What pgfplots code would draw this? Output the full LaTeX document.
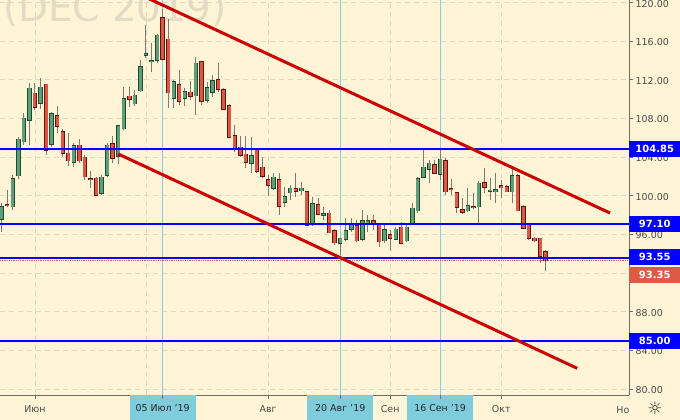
\documentclass[border=0pt]{standalone}
\usepackage{pgfplots}
\pgfplotsset{compat=1.18}
\usepackage{pgfplotstable}
\usepackage{fontspec}
\setmainfont{DejaVu Sans}
\definecolor{bg}{HTML}{FFF4D6}
\definecolor{wm}{HTML}{E3DBC3}
\definecolor{gridc}{HTML}{E3D9C2}
\definecolor{axisgray}{HTML}{6E6E6E}
\definecolor{labgray}{HTML}{4A4A4A}
\definecolor{vline}{HTML}{7FD0E6}
\definecolor{lblue}{HTML}{7ECCDC}
\definecolor{pblue}{HTML}{0000FF}
\definecolor{pred}{HTML}{DC5A46}
\definecolor{trend}{HTML}{CC0000}
\definecolor{gbody}{HTML}{5E9E78}
\definecolor{gline}{HTML}{1F4A2E}
\definecolor{rbody}{HTML}{DB5848}
\definecolor{rline}{HTML}{641408}
\definecolor{wick}{HTML}{7A7A7A}

\pgfplotstableread{
k o h l c
1 97.57 99.26 96.28 98.87
3 98.87 102.15 98.53 101.74
4 102.08 106.12 101.74 105.85
5 105.60 108.57 105.26 108.02
6 107.85 111.68 105.26 111.13
8 109.58 112.20 108.99 111.23
10 105.33 108.71 105.05 108.47
14 103.47 105.47 103.01 105.16
19 100.26 102.15 100.08 101.92
20 102.15 105.43 101.98 105.23
22 104.12 107.33 103.26 107.23
23 106.95 111.29 106.81 110.02
25 109.53 110.95 109.30 110.40
26 110.88 114.06 110.75 113.33
27 114.54 117.68 114.23 114.68
28 113.90 115.85 112.79 113.95
29 114.03 116.75 113.72 116.62
32 110.09 111.99 109.09 111.81
34 110.09 111.16 109.30 110.78
36 110.36 114.37 108.37 113.72
38 109.92 111.81 109.58 111.19
39 110.71 112.51 110.26 111.92
46 103.36 106.06 102.33 104.15
50 100.78 102.36 100.60 101.92
52 99.33 100.94 98.87 99.91
53 100.32 101.12 99.57 100.78
55 100.53 101.46 100.08 100.78
57 97.22 99.91 96.87 99.15
59 98.01 98.87 97.50 98.12
62 95.08 95.70 93.87 95.60
63 95.50 97.67 95.35 96.36
64 96.56 97.67 96.28 96.98
66 95.50 98.48 95.37 97.39
67 97.22 98.01 96.28 97.39
70 95.35 96.98 95.08 96.46
72 95.53 96.80 95.43 96.53
74 95.35 96.98 95.25 96.74
75 97.15 99.23 96.98 98.71
76 98.46 101.92 98.19 101.74
77 101.92 104.74 101.81 102.95
78 102.74 103.71 101.29 103.36
80 102.26 104.92 101.64 103.78
85 98.46 100.78 98.32 98.94
87 98.87 101.56 97.15 101.29
89 100.45 101.81 99.57 100.55
90 100.43 102.33 99.29 100.60
93 100.43 102.85 99.23 102.05
}\greendata

\pgfplotstableread{
k o h l c
2 99.10 100.60 98.84 98.99
7 110.61 111.68 108.88 109.16
9 111.54 111.57 104.23 104.74
11 108.26 109.30 106.53 107.23
12 106.64 106.92 104.05 104.40
13 104.40 106.53 103.09 103.63
15 105.23 105.85 103.40 103.63
16 103.99 104.23 101.64 101.98
17 101.75 102.57 100.78 101.68
18 101.81 101.95 99.98 100.08
21 105.39 106.19 103.40 103.88
24 110.30 111.29 109.22 109.99
30 118.44 119.31 114.06 114.13
31 116.20 118.27 109.06 110.67
33 111.47 113.02 109.40 109.81
35 110.71 111.92 109.92 110.33
37 113.88 113.95 109.40 109.81
40 111.99 113.72 110.78 111.03
41 110.95 111.16 108.88 108.95
42 109.30 109.50 105.98 106.06
43 106.19 107.33 104.57 104.92
44 105.02 106.19 104.02 104.23
45 104.30 106.19 102.85 103.47
47 104.81 104.85 102.36 102.57
48 102.95 104.05 101.81 102.05
49 101.64 102.15 100.01 101.12
51 101.64 102.36 98.01 98.94
54 100.71 102.36 99.91 100.47
56 100.43 100.50 96.93 96.98
58 99.05 99.74 98.01 98.09
60 98.19 98.53 96.10 96.18
61 96.36 96.56 94.91 95.15
65 96.87 97.50 95.25 95.35
68 97.39 98.01 96.50 97.18
69 96.98 97.15 94.73 95.25
71 95.94 96.46 94.29 95.60
73 96.74 97.32 95.01 95.08
79 103.19 103.71 102.26 102.33
81 103.63 103.88 100.08 100.43
82 100.71 101.71 100.08 100.65
83 100.32 100.43 98.19 98.81
84 98.53 99.74 98.12 98.29
86 98.84 100.26 98.63 98.78
88 101.36 102.85 100.26 100.88
91 101.05 101.64 99.74 100.84
92 100.94 101.12 100.40 100.43
94 102.05 102.26 98.46 98.46
95 98.87 99.05 96.53 96.64
96 96.98 97.15 95.43 95.60
97 95.60 95.70 95.25 95.35
98 95.60 95.60 93.07 93.77
99 94.21 94.39 92.25 93.35
}\reddata

\begin{document}
\begin{tikzpicture}
\useasboundingbox (0bp,-25bp) rectangle (680bp,395bp);
\fill[bg] (0bp,-25bp) rectangle (680bp,395bp);
\node[anchor=base west, inner sep=0pt, text=wm, font=\fontsize{39}{39}\selectfont] at (3bp,373bp) {(DEC 2019)};
\begin{axis}[
  at={(0bp,0bp)}, anchor=south west,
  width=629bp, height=395bp, scale only axis,
  xmin=0.694, xmax=114.03, ymin=79.38, ymax=120.27,
  axis x line*=bottom, axis y line*=right,
  axis line style={draw=axisgray, line width=0.8bp},
  tick align=outside, major tick length=4bp,
  tick style={draw=axisgray, line width=0.8bp},
  xtick={7,27,49,71,91}, xticklabels={Июн,,Авг,Сен,Окт},
  ytick={80,84,88,92,96,100,104,108,112,116,120},
  yticklabels={80.00,84.00,88.00,,96.00,100.00,104.00,108.00,112.00,116.00,120.00},
  /pgf/number format/assume math mode=true,
  ticklabel style={font=\fontsize{9.5}{11}\selectfont, text=labgray},
  yticklabel style={anchor=west, inner sep=0pt, xshift=2.5bp, yshift=-1bp},
  xticklabel style={anchor=north, inner sep=0pt, yshift=-6bp},
  grid=major,
  major grid style={draw=gridc, line width=0.8bp, dash pattern=on 5bp off 4bp},
  extra x ticks={30,62,80}, extra x tick labels={},
  extra x tick style={grid=major, major grid style={draw=vline, solid, line width=0.9bp}},
  clip=true,
  candle/.style={only marks, mark size=0pt, mark options={draw=none, fill=none}, forget plot},
]
% wicks
\addplot[candle, error bars/.cd, y dir=plus, y explicit, error mark=none,
  error bar style={draw=wick, line width=1bp}]
  table[x=k, y=l, y error expr=\thisrow{h}-\thisrow{l}] {\greendata};
\addplot[candle, error bars/.cd, y dir=plus, y explicit, error mark=none,
  error bar style={draw=wick, line width=1bp}]
  table[x=k, y=l, y error expr=\thisrow{h}-\thisrow{l}] {\reddata};
% green bodies
\addplot[candle, error bars/.cd, y dir=plus, y explicit, error mark=none,
  error bar style={draw=gline, line width=4.4bp}]
  table[x=k, y expr=\thisrow{o}-0.07, y error expr=\thisrow{c}-\thisrow{o}+0.14] {\greendata};
\addplot[candle, error bars/.cd, y dir=plus, y explicit, error mark=none,
  error bar style={draw=gbody, line width=3bp}]
  table[x=k, y=o, y error expr=\thisrow{c}-\thisrow{o}] {\greendata};
% red bodies
\addplot[candle, error bars/.cd, y dir=plus, y explicit, error mark=none,
  error bar style={draw=rline, line width=4.4bp}]
  table[x=k, y expr=\thisrow{c}-0.07, y error expr=\thisrow{o}-\thisrow{c}+0.14] {\reddata};
\addplot[candle, error bars/.cd, y dir=plus, y explicit, error mark=none,
  error bar style={draw=rbody, line width=3bp}]
  table[x=k, y=c, y error expr=\thisrow{o}-\thisrow{c}] {\reddata};
% last price dotted line
\addplot[draw=pred, densely dotted, line width=0.8bp, forget plot] coordinates {(0.694,93.35) (114.03,93.35)};
% horizontal levels
\addplot[draw=pblue, line width=1.8bp, forget plot] coordinates {(0.694,104.85) (114.03,104.85)};
\addplot[draw=pblue, line width=1.8bp, forget plot] coordinates {(0.694,97.10) (114.03,97.10)};
\addplot[draw=pblue, line width=1.8bp, forget plot] coordinates {(0.694,93.55) (114.03,93.55)};
\addplot[draw=pblue, line width=1.8bp, forget plot] coordinates {(0.694,85.00) (114.03,85.00)};
% channel
\addplot[draw=trend, line width=3bp, forget plot] coordinates {(26,120.81) (110.6,98.22)};
\addplot[draw=trend, line width=3bp, forget plot] coordinates {(22.0,104.33) (104.7,82.14)};
\coordinate (L1) at (axis cs:114.03,104.85);
\coordinate (L2) at (axis cs:114.03,97.10);
\coordinate (L3) at (axis cs:114.03,93.55);
\coordinate (L4) at (axis cs:114.03,85.00);
\coordinate (L5) at (axis cs:114.03,93.35);
\coordinate (T1) at (axis cs:30,79.38);
\coordinate (T2) at (axis cs:62,79.38);
\coordinate (T3) at (axis cs:80,79.38);
\end{axis}
\tikzset{plab/.style={anchor=west, inner sep=0pt, minimum width=51bp, minimum height=16bp, text=white, font=\fontsize{10}{11}\selectfont\bfseries}}
\node[plab, fill=pblue] at (L1) {104.85};
\node[plab, fill=pblue] at (L2) {97.10};
\node[plab, fill=pblue] at ([yshift=1bp]L3) {93.55};
\node[plab, fill=pblue] at (L4) {85.00};
\node[plab, fill=pred] at ([yshift=-15bp]L5) {93.35};
\tikzset{dlab/.style={anchor=north, inner sep=0pt, minimum width=66bp, minimum height=25bp, fill=lblue, text=black!85, font=\fontsize{9.5}{11}\selectfont}}
\node[dlab] at (T1) {05 Июл '19};
\node[dlab] at (T2) {20 Авг '19};
\node[dlab] at (T3) {16 Сен '19};
\draw[axisgray, line width=0.8bp] (T1) -- ++(0,-4bp) (T2) -- ++(0,-4bp) (T3) -- ++(0,-4bp);
\node[anchor=base east, inner sep=0pt, text=labgray, font=\fontsize{9.5}{11}\selectfont] at (629.5bp,-18.5bp) {Но};
\node[text=black!80, inner sep=0pt, font=\fontsize{17}{17}\selectfont] at (655bp,-13bp) {☼};
\end{tikzpicture}
\end{document}
